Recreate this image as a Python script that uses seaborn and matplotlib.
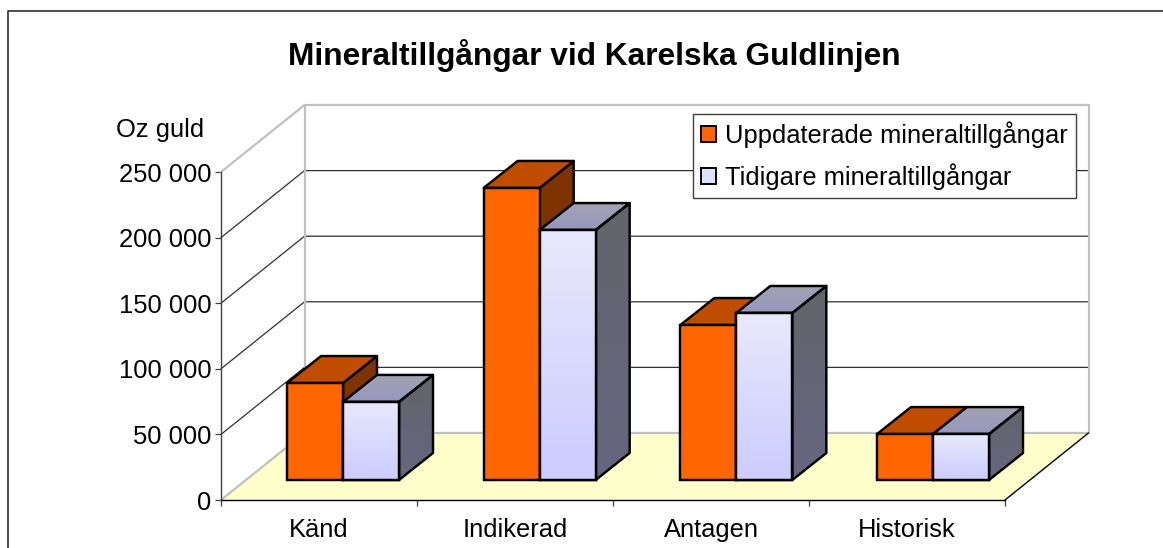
import numpy as np
import pandas as pd
import matplotlib
matplotlib.use("Agg")
import matplotlib.pyplot as plt
from matplotlib.colors import to_rgb
from matplotlib.lines import Line2D
from matplotlib.patches import Patch, Polygon, Rectangle
import seaborn as sns

# ---- data ----
categories = ["Känd", "Indikerad", "Antagen", "Historisk"]
uppdaterade = [73900, 222600, 118100, 35000]
tidigare = [59500, 190500, 127300, 35000]
series_names = ["Uppdaterade mineraltillgångar", "Tidigare mineraltillgångar"]
y_ticks = [0, 50000, 100000, 150000, 200000, 250000]
y_tick_labels = ["0", "50 000", "100 000", "150 000", "200 000", "250 000"]
title = "Mineraltillgångar vid Karelska Guldlinjen"
y_title = "Oz guld"

W, H = 1163, 548
sns.set_theme(style="white")
plt.rcParams["font.family"] = ["Liberation Sans", "DejaVu Sans"]
fig = plt.figure(figsize=(W / 100, H / 100), dpi=100, facecolor="white")

def rect(l, t, r, b):
    return [l / W, 1 - b / H, (r - l) / W, (b - t) / H]

# main axes: front plane of the 3D box
ax = fig.add_axes(rect(221, 172, 1005, 500), facecolor="none")
ax.set_xlim(-0.5, 3.5)
ax.set_ylim(0, 250000)
# bar axes: plane in which the bars stand
bx = fig.add_axes(rect(244.67, 152, 1031.33, 480), facecolor="none")
bx.set_zorder(ax.get_zorder() + 1)

# wall / floor depth
wx = 83.5 * 4 / 784
wy = 67 * 250000 / 328
x0, x1 = -0.5, 3.5
GR = "#c0c0c0"
ax.add_patch(Polygon([(x0, 0), (x1, 0), (x1 + wx, wy), (x0 + wx, wy)], closed=True,
                     fc="#ffffcc", ec="none", clip_on=False, zorder=1))
for v in y_ticks[1:5]:
    ax.plot([x0, x0 + wx, x1 + wx], [v, v + wy, v + wy], color="#303030", lw=0.9,
            clip_on=False, zorder=1.2)
for xs, ys in [([x0, x0 + wx], [0, wy]), ([x0, x0 + wx], [250000, 250000 + wy]),
               ([x0 + wx, x0 + wx], [wy, 250000 + wy]), ([x1 + wx, x1 + wx], [wy, 250000 + wy]),
               ([x0 + wx, x1 + wx], [250000 + wy, 250000 + wy]), ([x0 + wx, x1 + wx], [wy, wy])]:
    ax.plot(xs, ys, color=GR, lw=1.6, clip_on=False, zorder=1.3)
ax.plot([x1, x1 + wx], [0, wy], color="black", lw=1.0, clip_on=False, zorder=1.4)

for s in ["top", "right"]:
    ax.spines[s].set_visible(False)
ax.spines["left"].set_color("#404040")
ax.spines["bottom"].set_color("black")
ax.spines["left"].set_linewidth(1.0)
ax.spines["bottom"].set_linewidth(1.0)
ax.set_yticks(y_ticks, y_tick_labels, fontsize=18.4, color="black")
ax.set_xticks([-0.5, 0.5, 1.5, 2.5, 3.5], [""] * 5)
ax.set_xticks([0, 1, 2, 3], categories, minor=True, fontsize=18.4, color="black")
ax.tick_params(axis="both", which="major", length=4.3, width=0.9, color="#404040",
               left=True, bottom=True, pad=2.5)
ax.tick_params(axis="x", which="minor", length=0, pad=13, bottom=False)

# bars, via seaborn
df = pd.DataFrame({
    "kategori": categories * 2,
    "serie": [series_names[0]] * 4 + [series_names[1]] * 4,
    "oz": uppdaterade + tidigare,
})
sns.barplot(data=df, x="kategori", y="oz", hue="serie", order=categories, hue_order=series_names,
            palette=["#ff6600", "#e8e8fc"], width=0.5695, dodge=True, errorbar=None,
            legend=False, ax=bx, saturation=1)
bx.set_xlim(-0.5, 3.5)
bx.set_ylim(0, 250000)
bx.axis("off")

dx = 34 * 4 / 786.67
dy = 27 * 250000 / 328
EC = "black"
LW = 1.75

def grad(axis, top, bottom, extent, clip, z):
    a, b = np.array(to_rgb(top)), np.array(to_rgb(bottom))
    t = np.linspace(0, 1, 64)[:, None, None]
    img = (1 - t) * a[None, None, :] + t * b[None, None, :]
    im = axis.imshow(img, extent=extent, origin="upper", aspect="auto", zorder=z, interpolation="bilinear")
    im.set_clip_path(clip)

n = len(categories)
for i, p in enumerate(bx.patches[:2 * n]):
    is_old = i >= n
    l, w, h = p.get_x(), p.get_width(), p.get_height()
    r = l + w
    zb = 3.0 + (i % n) * 10 + (5 if is_old else 0)
    side = Polygon([(r, 0), (r + dx, dy), (r + dx, h + dy), (r, h)], closed=True, fc="none", ec=EC, lw=LW,
                   joinstyle="round", zorder=zb + 1.1)
    topf = Polygon([(l, h), (l + dx, h + dy), (r + dx, h + dy), (r, h)], closed=True, fc="none", ec=EC, lw=LW,
                   joinstyle="round", zorder=zb + 1.1)
    for poly in (side, topf):
        poly.set_clip_on(False)
        bx.add_patch(poly)
    if is_old:
        s_bg = Polygon(side.get_xy(), closed=True, fc="none", ec="none", transform=bx.transData)
        t_bg = Polygon(topf.get_xy(), closed=True, fc="none", ec="none", transform=bx.transData)
        bx.add_patch(s_bg); bx.add_patch(t_bg)
        grad(bx, "#64646c", "#666680", (r, r + dx, 0, h + dy), s_bg, zb + 1)
        grad(bx, "#a3a3b3", "#9696be", (l, r + dx, h, h + dy), t_bg, zb + 1)
        p.set_facecolor("#e8e8fc")
        p.set_edgecolor(EC); p.set_linewidth(LW); p.set_zorder(zb + 2)
        f_bg = Rectangle((l, 0), w, h, fc="none", ec="none", transform=bx.transData)
        bx.add_patch(f_bg)
        grad(bx, "#e8e8fc", "#ccccff", (l, r, 0, h), f_bg, zb + 3)
        edge = Rectangle((l, 0), w, h, fc="none", ec=EC, lw=LW, zorder=zb + 4, clip_on=False)
        bx.add_patch(edge)
    else:
        side.set_facecolor("#7f3300")
        topf.set_facecolor("#bf4c00")
        p.set_edgecolor(EC); p.set_linewidth(LW); p.set_zorder(zb + 2)
    p.set_clip_on(False)

bx.set_xlim(-0.5, 3.5)
bx.set_ylim(0, 250000)

# legend
handles = [Patch(fc="#ff6600", ec="black", lw=1.4), Patch(fc="#e0e0fc", ec="black", lw=1.4)]
leg = fig.legend(handles, series_names, loc="upper left", bbox_to_anchor=(693 / W, 1 - 114 / H),
                 bbox_transform=fig.transFigure, fontsize=18.4, frameon=True, fancybox=False, framealpha=1,
                 edgecolor="#404040", facecolor="white", borderaxespad=0, borderpad=0.3,
                 handlelength=0.6, handleheight=0.6, handletextpad=0.36, labelspacing=0.6, labelcolor="black")
leg.get_frame().set_linewidth(1.0)
leg.set_zorder(20)

# titles
fig.text(594.5 / W, 1 - 55 / H, title, ha="center", va="center", fontsize=22.75, fontweight="bold", color="black")
fig.text(160 / W, 1 - 130 / H, y_title, ha="center", va="center", fontsize=18.4, color="black")

# outer frame: left and top edges only
fig.add_artist(Line2D([7.5 / W, 7.5 / W, 1], [0, 1 - 11 / H, 1 - 11 / H], color="#303030", lw=1.2))

fig.savefig("out.png", dpi=100, facecolor="white")
